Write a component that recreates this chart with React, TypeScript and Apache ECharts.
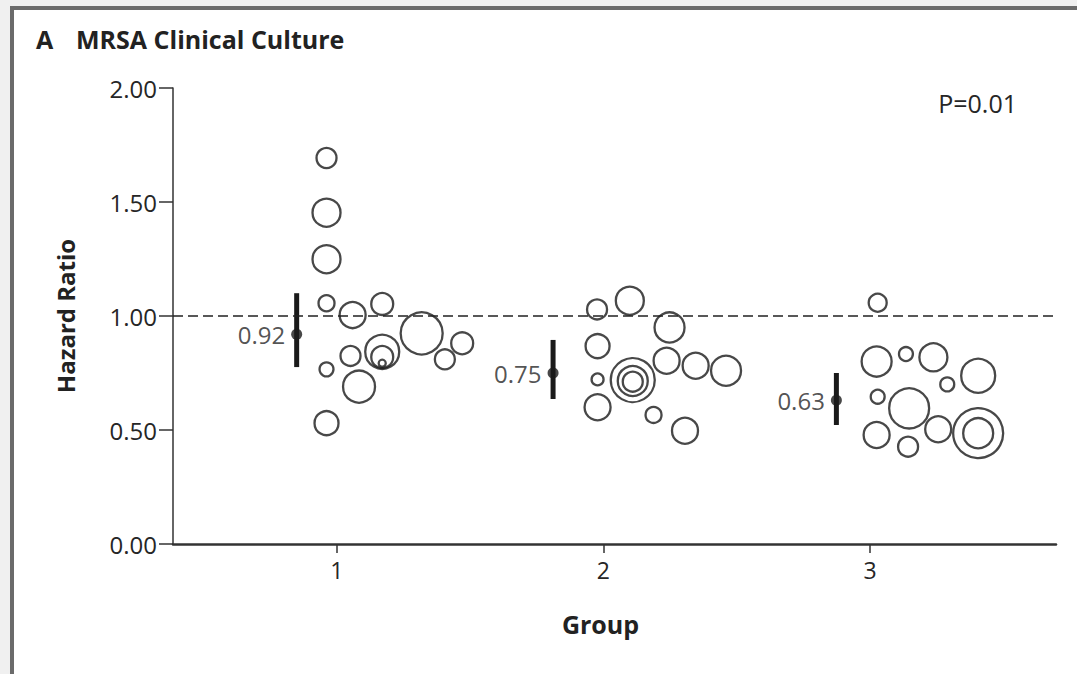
import React, { useEffect, useRef } from "react";
import * as echarts from "echarts";

// Group axis ticks
const groupTicks = [1, 2, 3];
const yTicks = [0, 0.5, 1.0, 1.5, 2.0];

// Individual study bubbles: [group position, hazard ratio, weight]
const group1Studies = [
  [0.961, 1.693, 11.1],
  [0.961, 1.453, 21.8],
  [0.961, 1.249, 21.8],
  [0.961, 1.056, 7.1],
  [1.059, 1.004, 18.8],
  [1.17, 1.053, 13.4],
  [1.318, 0.924, 49.0],
  [1.47, 0.88, 13.4],
  [1.405, 0.81, 11.1],
  [1.17, 0.843, 32.1],
  [1.17, 0.82, 13.4],
  [1.17, 0.793, 1.4],
  [1.051, 0.825, 11.1],
  [0.961, 0.766, 5.4],
  [1.083, 0.69, 28.4],
  [0.961, 0.53, 16.0],
];

const group2Studies = [
  [1.976, 1.029, 11.1],
  [2.099, 1.067, 21.8],
  [2.248, 0.95, 25.0],
  [1.978, 0.868, 16.0],
  [1.978, 0.722, 4.0],
  [1.978, 0.6, 18.8],
  [2.11, 0.719, 53.8],
  [2.11, 0.715, 25.0],
  [2.11, 0.712, 11.1],
  [2.237, 0.804, 18.8],
  [2.346, 0.782, 18.8],
  [2.46, 0.76, 25.0],
  [2.188, 0.566, 7.1],
  [2.306, 0.497, 18.8],
];

const group3Studies = [
  [3.029, 1.058, 9.0],
  [3.025, 0.8, 25.0],
  [3.135, 0.833, 5.4],
  [3.238, 0.819, 21.8],
  [3.29, 0.7, 5.4],
  [3.406, 0.738, 32.1],
  [3.029, 0.646, 5.4],
  [3.147, 0.595, 44.4],
  [3.025, 0.478, 18.8],
  [3.143, 0.427, 11.1],
  [3.256, 0.503, 18.8],
  [3.406, 0.486, 69.4],
  [3.406, 0.486, 25.0],
];

// Pooled estimates: position, estimate, lower CI, upper CI
const pooledX = [0.849, 1.811, 2.874];
const pooledHR = [0.92, 0.75, 0.63];
const pooledLow = [0.776, 0.636, 0.522];
const pooledHigh = [1.1, 0.895, 0.75];

const panelLetter = "A";
const panelTitle = "MRSA Clinical Culture";
const pValueText = "P=0.01";

const FONT = "'Open Sans', Lato, 'DejaVu Sans', sans-serif";
const INK = "#1a1a1a";
const TEXT = "#262626";

export default function App() {
  const ref = useRef<HTMLDivElement>(null);

  useEffect(() => {
    if (!ref.current) return;
    const chart = echarts.init(ref.current, null, { renderer: "svg" });

    const allStudies = [...group1Studies, ...group2Studies, ...group3Studies];
    const pooled = pooledX.map((x, i) => [x, pooledHR[i]]);
    const bars = pooledX.map((x, i) => [x, pooledLow[i], pooledHigh[i]]);

    chart.setOption({
      animation: false,
      backgroundColor: "transparent",
      title: [
        {
          text: panelLetter,
          left: 31,
          top: 21,
          textStyle: { fontFamily: FONT, fontWeight: "bold", fontSize: 25, color: "#222" },
        },
        {
          text: panelTitle,
          left: 71,
          top: 21,
          textStyle: { fontFamily: FONT, fontWeight: "bold", fontSize: 25, color: "#222" },
        },
        {
          text: pValueText,
          right: 55,
          top: 85,
          textStyle: { fontFamily: FONT, fontWeight: "normal", fontSize: 25, color: TEXT },
        },
      ],
      grid: { left: 173, right: 21, top: 88, bottom: 130 },
      xAxis: {
        type: "value",
        min: 0.385,
        max: 3.698,
        name: "Group",
        nameLocation: "middle",
        nameGap: 67,
        nameTextStyle: {
          fontFamily: FONT,
          fontWeight: "bold",
          fontSize: 25,
          color: "#222",
          padding: [0, 28, 0, 0],
        },
        axisLine: { lineStyle: { color: "#333", width: 2.5 } },
        axisTick: { show: true, length: 9, customValues: groupTicks, lineStyle: { color: "#333", width: 1.5 } },
        axisLabel: {
          customValues: groupTicks,
          formatter: (v: number) => String(Math.round(v)),
          fontFamily: FONT,
          fontSize: 23,
          color: TEXT,
          margin: 14,
        },
        splitLine: { show: false },
      },
      yAxis: {
        type: "value",
        min: 0,
        max: 2,
        interval: 0.5,
        name: "Hazard Ratio",
        nameLocation: "middle",
        nameRotate: 90,
        nameGap: 96,
        nameTextStyle: { fontFamily: FONT, fontWeight: "bold", fontSize: 24, color: "#222" },
        axisLine: { show: true, lineStyle: { color: "#333", width: 1.5 } },
        axisTick: { show: true, length: 14, lineStyle: { color: "#333", width: 1.5 } },
        axisLabel: {
          formatter: (v: number) => v.toFixed(2),
          fontFamily: FONT,
          fontSize: 24,
          color: TEXT,
          margin: 16,
          customValues: yTicks,
        },
        splitLine: { show: false },
      },
      series: [
        {
          type: "scatter",
          name: "Studies",
          data: allStudies,
          symbol: "circle",
          symbolSize: (val: number[]) => 6 * Math.sqrt(val[2]),
          itemStyle: { color: "transparent", borderColor: INK, borderWidth: 2.3 },
          emphasis: { disabled: true },
          silent: true,
          z: 3,
          markLine: {
            silent: true,
            symbol: "none",
            label: { show: false },
            lineStyle: { color: "#222", width: 1.5, type: [10, 5] },
            data: [{ yAxis: 1 }],
          },
        },
        {
          type: "custom",
          name: "CI",
          data: bars,
          silent: true,
          z: 4,
          renderItem: (params: any, api: any) => {
            const x = api.value(0);
            const p1 = api.coord([x, api.value(1)]);
            const p2 = api.coord([x, api.value(2)]);
            return {
              type: "line",
              shape: { x1: p1[0], y1: p1[1], x2: p2[0], y2: p2[1] },
              style: { stroke: INK, lineWidth: 5 },
            };
          },
        },
        {
          type: "scatter",
          name: "Pooled",
          data: pooled,
          symbol: "circle",
          symbolSize: 11,
          itemStyle: { color: INK },
          silent: true,
          z: 5,
          label: {
            show: true,
            position: "left",
            distance: 6,
            formatter: (p: any) => p.value[1].toFixed(2),
            fontFamily: FONT,
            fontSize: 24,
            color: TEXT,
          },
        },
      ],
    });

    return () => chart.dispose();
  }, []);

  return (
    <div style={{ position: "fixed", left: 0, top: 0, width: 1077, height: 674, background: "#f0f0f0", overflow: "hidden" }}>
      <div
        style={{
          position: "absolute",
          left: 10,
          top: 6,
          width: 1100,
          height: 700,
          background: "#ffffff",
          border: "4px solid #6b6b6b",
          boxSizing: "border-box",
        }}
      />
      <div ref={ref} style={{ position: "absolute", left: 0, top: 0, width: 1077, height: 674 }} />
    </div>
  );
}
